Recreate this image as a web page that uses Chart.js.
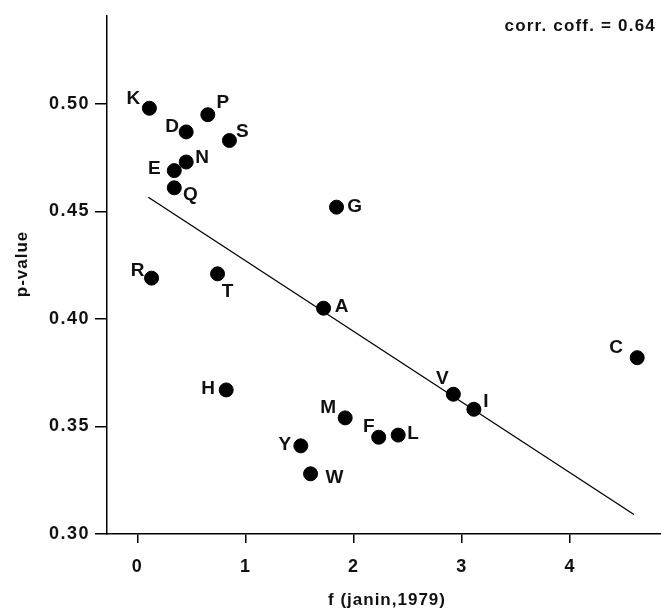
<!DOCTYPE html>
<html>
<head>
<meta charset="utf-8">
<script src="https://cdn.jsdelivr.net/npm/chart.js@4"></script>
<style>
  html, body { margin: 0; padding: 0; background: #fff; }
  canvas { display: block; }
</style>
</head>
<body>
<canvas id="c" width="661" height="616"></canvas>
<script>
// ---- data ----
const aminoLabels = ['K','D','P','S','N','E','Q','R','T','A','G','H','Y','W','M','F','L','V','I','C'];
const janinF = [0.11,0.45,0.65,0.85,0.45,0.34,0.34,0.13,0.74,1.72,1.84,0.82,1.51,1.60,1.92,2.23,2.41,2.92,3.11,4.62];
const pValues = [0.498,0.487,0.495,0.483,0.473,0.469,0.461,0.419,0.421,0.405,0.452,0.367,0.341,0.328,0.354,0.345,0.346,0.365,0.358,0.382];
const fitLineX = [0.10, 4.59];
const fitLineY = [0.4566, 0.3091];
const xTickValues = [0, 1, 2, 3, 4];
const yTickValues = [0.30, 0.35, 0.40, 0.45, 0.50];
const corrText = 'corr. coff. = 0.64';
const xTitle = 'f (janin,1979)';
const yTitle = 'p-value';

// label placement (pixel offsets from each point, styling only)
const labelOffsets = {
  K:[-16,-9], D:[-14,-5], P:[15,-12], S:[13,-9], N:[16,-4], E:[-20,-2], Q:[16,7],
  R:[-14,-7], T:[10,18], A:[18,-1], G:[18,0], H:[-18,-1], Y:[-16,-1], W:[24,4],
  M:[-17,-10], F:[-10,-10], L:[15,-1], V:[-11,-15], I:[12,-8], C:[-21,-10]
};

const FONT = '"Liberation Sans", Arial, Helvetica, sans-serif';
const INK = '#111';

const spacingPlugin = {
  id: 'spacing',
  beforeLayout(chart) { chart.ctx.letterSpacing = '1.5px'; },
  beforeDraw(chart) { chart.ctx.letterSpacing = '1.5px'; }
};

const annotatePlugin = {
  id: 'annotate',
  afterDatasetsDraw(chart) {
    const ctx = chart.ctx;
    const meta = chart.getDatasetMeta(0);
    const area = chart.chartArea;
    ctx.save();
    ctx.letterSpacing = '0px';
    ctx.fillStyle = INK;
    ctx.font = 'bold 19px ' + FONT;
    ctx.textAlign = 'center';
    ctx.textBaseline = 'middle';
    meta.data.forEach((pt, i) => {
      const lab = aminoLabels[i];
      const off = labelOffsets[lab] || [12, 0];
      ctx.fillText(lab, pt.x + off[0], pt.y + off[1]);
    });
    // correlation note
    ctx.font = 'bold 17px ' + FONT;
    ctx.letterSpacing = '1.2px';
    ctx.textAlign = 'right';
    ctx.fillText(corrText, 656, 26);
    // axis titles
    ctx.font = 'bold 17px ' + FONT;
    ctx.letterSpacing = '1px';
    ctx.textAlign = 'center';
    ctx.fillText(xTitle, (area.left + area.right) / 2 + 3, 600);
    ctx.save();
    ctx.translate(22, 264);
    ctx.rotate(-Math.PI / 2);
    ctx.fillText(yTitle, 0, 0);
    ctx.restore();
    ctx.restore();
  }
};

const scatterData = janinF.map((x, i) => ({ x: x, y: pValues[i] }));
const lineData = fitLineX.map((x, i) => ({ x: x, y: fitLineY[i] }));

new Chart(document.getElementById('c'), {
  type: 'scatter',
  data: {
    datasets: [
      {
        label: 'residues',
        data: scatterData,
        backgroundColor: '#000',
        borderColor: '#000',
        pointRadius: 7,
        pointHoverRadius: 7,
        order: 1
      },
      {
        type: 'line',
        label: 'fit',
        data: lineData,
        borderColor: '#000',
        borderWidth: 1.3,
        pointRadius: 0,
        fill: false,
        order: 2
      }
    ]
  },
  options: {
    responsive: false,
    animation: false,
    devicePixelRatio: 1,
    layout: { autoPadding: false, padding: { top: 14, right: 0, left: 0, bottom: 0 } },
    plugins: {
      legend: { display: false },
      tooltip: { enabled: false },
      title: { display: false }
    },
    scales: {
      x: {
        type: 'linear',
        position: 'bottom',
        min: -0.282,
        max: 4.84,
        afterBuildTicks(s) { s.ticks = xTickValues.map(v => ({ value: v })); },
        afterFit(s) { s.height = 82; },
        ticks: {
          color: INK,
          font: { family: FONT, size: 18, weight: 'bold' },
          padding: 13,
          maxRotation: 0,
          callback: v => String(v)
        },
        grid: { drawOnChartArea: false, drawTicks: true, tickLength: 9, color: '#000', lineWidth: 1.5 },
        border: { display: true, color: '#000', width: 1.5 },
        title: { display: false }
      },
      y: {
        type: 'linear',
        min: 0.30,
        max: 0.541,
        afterBuildTicks(s) { s.ticks = yTickValues.map(v => ({ value: v })); },
        afterFit(s) { s.width = 107; },
        ticks: {
          color: INK,
          font: { family: FONT, size: 18, weight: 'bold' },
          padding: 5,
          callback: v => Number(v).toFixed(2)
        },
        grid: { drawOnChartArea: false, drawTicks: true, tickLength: 12, color: '#000', lineWidth: 1.5 },
        border: { display: true, color: '#000', width: 1.5 },
        title: { display: false }
      }
    }
  },
  plugins: [spacingPlugin, annotatePlugin]
});
</script>
</body>
</html>
